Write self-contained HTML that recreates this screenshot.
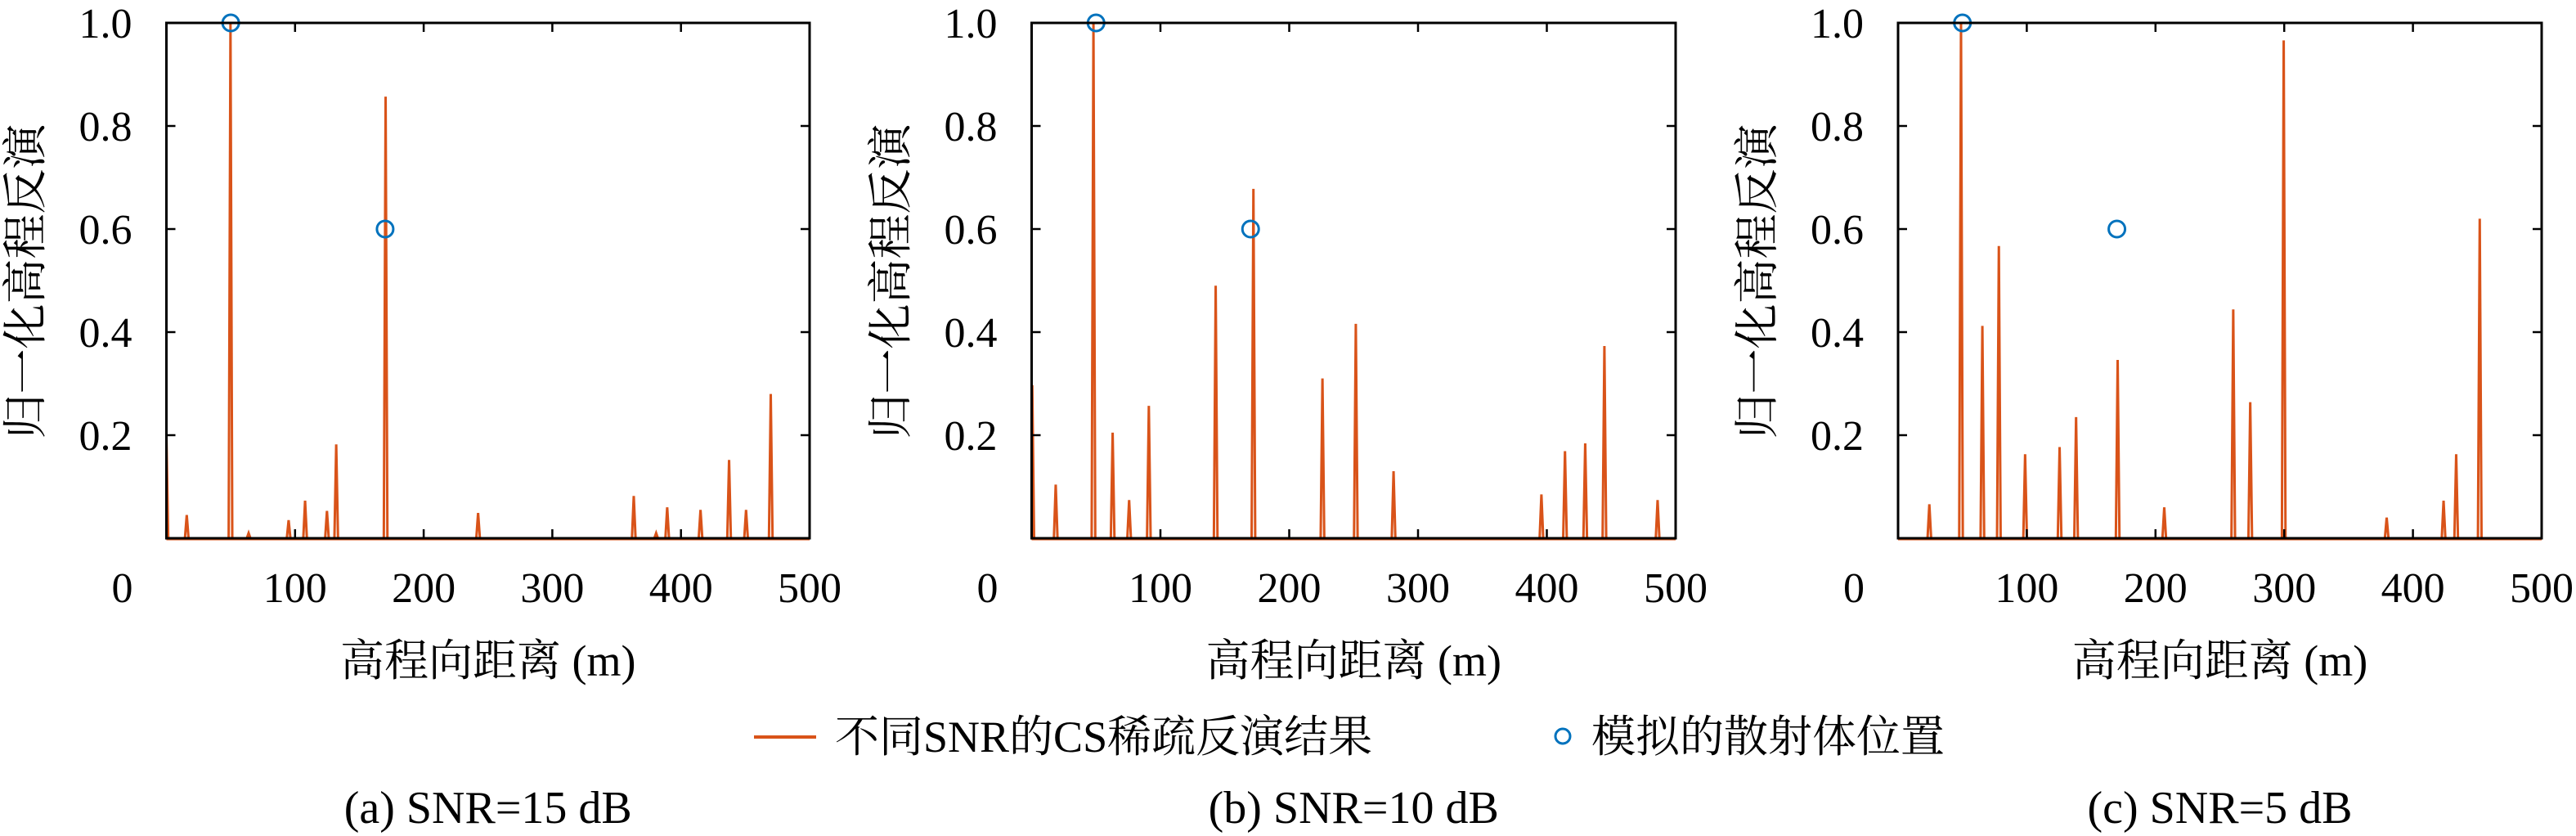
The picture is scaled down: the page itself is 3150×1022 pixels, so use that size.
<!DOCTYPE html>
<html><head><meta charset="utf-8"><style>
html,body{margin:0;padding:0;background:#fff;}
svg{display:block;}
text{font-family:"Liberation Serif","Noto Serif CJK SC",serif;fill:#000;}
</style></head><body>
<svg id="chart" width="3150" height="1022" viewBox="0 0 3150 1022" xmlns="http://www.w3.org/2000/svg"></svg>
<script>
const xTicks = [0, 100, 200, 300, 400, 500];
const yTicks = [0.2, 0.4, 0.6, 0.8, 1.0];
const captions = ["(a) SNR=15 dB", "(b) SNR=10 dB", "(c) SNR=5 dB"];
const peaksX_a = [0, 15.8, 49.8, 63.9, 95, 107.8, 124.8, 132, 170.4, 242.3, 363.3, 380.7, 389.3, 415.2, 437.4, 450.6, 469.8];
const peaksY_a = [0.2, 0.045, 1.0, 0.01, 0.035, 0.073, 0.053, 0.182, 0.857, 0.049, 0.082, 0.01, 0.06, 0.055, 0.152, 0.055, 0.28];
const peaksX_b = [0.5, 18.7, 48, 62.9, 75.7, 91, 142.9, 172.2, 225.8, 251.7, 281, 395.8, 414.1, 429.8, 444.7, 486];
const peaksY_b = [0.297, 0.104, 1.0, 0.205, 0.074, 0.257, 0.49, 0.678, 0.31, 0.416, 0.13, 0.085, 0.169, 0.184, 0.373, 0.074];
const peaksX_c = [24.3, 48.9, 65.5, 78.3, 98.7, 125.5, 138.3, 170.6, 206.8, 260.4, 273.6, 299.6, 379.6, 423.8, 433.6, 451.9];
const peaksY_c = [0.066, 1.0, 0.412, 0.567, 0.163, 0.177, 0.235, 0.346, 0.06, 0.444, 0.264, 0.966, 0.04, 0.073, 0.163, 0.62];
const truthX = [50, 170];
const truthY = [1.0, 0.6];

const FONT = '"Liberation Serif", "Noto Serif CJK SC", serif';
const NS = "http://www.w3.org/2000/svg";
const svgEl = document.getElementById("chart");
function mk(tag, attrs, parent) {
  const e = document.createElementNS(NS, tag);
  for (const k in attrs) e.setAttribute(k, attrs[k]);
  if (tag === "text") e.setAttribute("font-family", FONT);
  (parent || svgEl).appendChild(e);
  return e;
}
const panels = [
  {left: 203.5, right: 990, px: peaksX_a, py: peaksY_a},
  {left: 1261.5, right: 2049, px: peaksX_b, py: peaksY_b},
  {left: 2321, right: 3108, px: peaksX_c, py: peaksY_c}
];
const plotTop = 28, plotBottom = 658;
panels.forEach((p, i) => {
  const g = mk("g", {});
  
  
  const sx = v => p.left + (v / 500) * (p.right - p.left);
  const sy = v => plotBottom - v * (plotBottom - plotTop);
  let d = "";
  p.px.forEach((x, j) => {
    const cx = sx(x), w = 2.2;
    d += `M${Math.max(p.left, cx - w)},${plotBottom}L${Math.max(p.left, cx)},${sy(p.py[j])}L${cx + w},${plotBottom}`;
  });
  const path = mk("path", {d: d, fill: "none", stroke: "#D95319", "stroke-width": 3}, g);
  
  
  mk("line", {x1: p.left, x2: p.right, y1: plotBottom + 1, y2: plotBottom + 1, stroke: "#D95319", "stroke-width": 3}, g);
  truthX.forEach((x, j) => {
    const c = mk("circle", {cx: sx(x), cy: sy(truthY[j]), r: 10, fill: "none", stroke: "#0072BD", "stroke-width": 3}, g);
    
    
  });
  const fr = mk("rect", {x: p.left, y: plotTop, width: p.right - p.left, height: plotBottom - plotTop, fill: "none", stroke: "#000", "stroke-width": 3}, g);
  
  
  xTicks.forEach((t, j) => {
    const x = sx(t);
    mk("line", {x1: x, x2: x, y1: plotBottom, y2: plotBottom - 11, stroke: "#000", "stroke-width": 2.5}, g);
    mk("line", {x1: x, x2: x, y1: plotTop, y2: plotTop + 11, stroke: "#000", "stroke-width": 2.5}, g);
    const tx = mk("text", {x: j === 0 ? x - 54 : x, y: 736, "font-size": 52, "text-anchor": "middle"}, g);
    tx.textContent = t;
    
    
  });
  yTicks.forEach(t => {
    const y = sy(t);
    mk("line", {x1: p.left, x2: p.left + 11, y1: y, y2: y, stroke: "#000", "stroke-width": 2.5}, g);
    mk("line", {x1: p.right, x2: p.right - 11, y1: y, y2: y, stroke: "#000", "stroke-width": 2.5}, g);
    const ty = mk("text", {x: p.left - 42, y: y + 18, "font-size": 52, "text-anchor": "end"}, g);
    ty.textContent = t.toFixed(1);
    
    
  });
  const xt = mk("text", {x: (p.left + p.right) / 2, y: 826, "font-size": 54, "text-anchor": "middle"}, g);
  xt.textContent = "高程向距离 (m)";
  
  
  const yx = p.left - 172, yc = 344;
  const yt = mk("text", {x: yx, y: yc, "font-size": 55, "text-anchor": "middle", transform: `rotate(-90 ${yx} ${yc})`, "dominant-baseline": "central"}, g);
  yt.textContent = "归一化高程反演";
  
  
  const cap = mk("text", {x: (p.left + p.right) / 2, y: 1006, "font-size": 56, "text-anchor": "middle"}, g);
  cap.textContent = captions[i];
  
  
});
const lg = mk("g", {});


const l1 = mk("line", {x1: 922, x2: 998, y1: 901, y2: 901, stroke: "#D95319", "stroke-width": 4}, lg);


const t1 = mk("text", {x: 1021, y: 919, "font-size": 54}, lg);
t1.textContent = "不同SNR的CS稀疏反演结果";


const c1 = mk("circle", {cx: 1911, cy: 900, r: 9, fill: "none", stroke: "#0072BD", "stroke-width": 3}, lg);


const t2 = mk("text", {x: 1946, y: 919, "font-size": 54}, lg);
t2.textContent = "模拟的散射体位置";


</script>
</body></html>
